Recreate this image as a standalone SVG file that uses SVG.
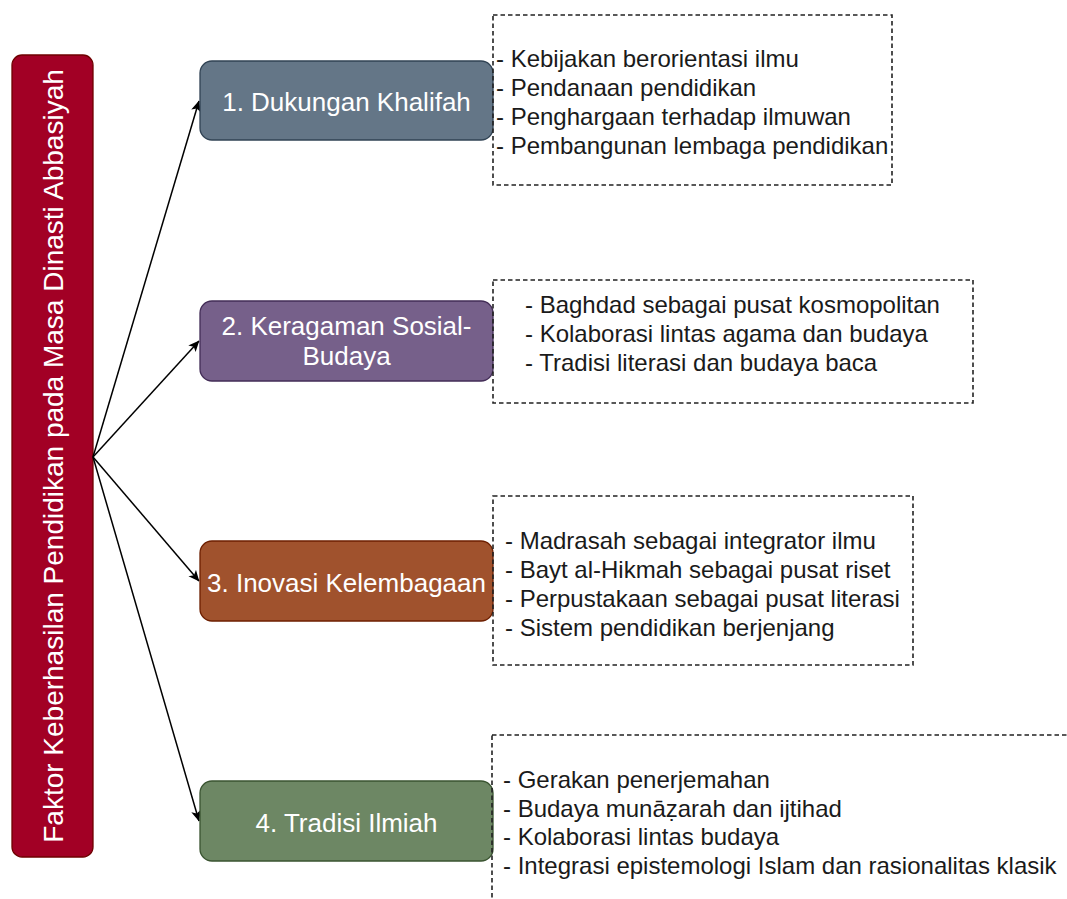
<svg xmlns="http://www.w3.org/2000/svg" width="1067" height="899" viewBox="0 0 1067 899">
  <style>
    .node-text { font-family: "Liberation Sans", Arial, sans-serif; font-size: 26px; fill: #ffffff; text-anchor: middle; }
    .main-text { font-family: "Liberation Sans", Arial, sans-serif; font-size: 28px; fill: #ffffff; text-anchor: middle; }
    .list-text { font-family: "Liberation Sans", Arial, sans-serif; font-size: 24px; fill: #1a1a1a; }
    .dash { fill: none; stroke: #222222; stroke-width: 1.6; stroke-dasharray: 4.5 3; }
    .conn { fill: none; stroke: #000000; stroke-width: 1.5; marker-end: url(#arrow); }
  </style>
  <defs>
    <marker id="arrow" viewBox="0 0 10 10" refX="9.5" refY="5" markerWidth="11" markerHeight="11" markerUnits="userSpaceOnUse" orient="auto">
      <path d="M0,0.5 L10,5 L0,9.5 L2.5,5 Z" fill="#000000"/>
    </marker>
  </defs>
  <rect width="1067" height="899" fill="#ffffff"/>

  <g id="main">
    <rect x="12" y="55" width="81" height="802" rx="10" ry="10" fill="#a20025" stroke="#6f0000" stroke-width="1.3"/>
    <text class="main-text" transform="translate(63,456) rotate(-90)" x="0" y="0">Faktor Keberhasilan Pendidikan pada Masa Dinasti Abbasiyah</text>
  </g>

  <g id="connectors">
    <path class="conn" d="M93,457 L199,101"/>
    <path class="conn" d="M93,457 L199,341"/>
    <path class="conn" d="M93,457 L199,581"/>
    <path class="conn" d="M93,457 L199,821"/>
  </g>

  <g id="node1">
    <rect x="200" y="61" width="293" height="79" rx="12" ry="12" fill="#647687" stroke="#314354" stroke-width="1.3"/>
    <text class="node-text" x="346.5" y="111">1. Dukungan Khalifah</text>
  </g>
  <g id="node2">
    <rect x="200" y="301" width="293" height="80" rx="12" ry="12" fill="#76608a" stroke="#432d57" stroke-width="1.3"/>
    <text class="node-text" x="346.5" y="335">2. Keragaman Sosial-</text>
    <text class="node-text" x="346.5" y="365">Budaya</text>
  </g>
  <g id="node3">
    <rect x="200" y="541" width="293" height="80" rx="12" ry="12" fill="#a0522d" stroke="#6d1f00" stroke-width="1.3"/>
    <text class="node-text" x="346.5" y="592">3. Inovasi Kelembagaan</text>
  </g>
  <g id="node4">
    <rect x="200" y="781" width="293" height="80" rx="12" ry="12" fill="#6d8764" stroke="#3a5431" stroke-width="1.3"/>
    <text class="node-text" x="346.5" y="832">4. Tradisi Ilmiah</text>
  </g>

  <g id="list1">
    <rect class="dash" x="493" y="15" width="399" height="170"/>
    <text class="list-text" x="496" y="67">- Kebijakan berorientasi ilmu</text>
    <text class="list-text" x="496" y="96">- Pendanaan pendidikan</text>
    <text class="list-text" x="496" y="125">- Penghargaan terhadap ilmuwan</text>
    <text class="list-text" x="496" y="154">- Pembangunan lembaga pendidikan</text>
  </g>
  <g id="list2">
    <rect class="dash" x="493" y="280" width="480" height="123"/>
    <text class="list-text" x="525" y="313">- Baghdad sebagai pusat kosmopolitan</text>
    <text class="list-text" x="525" y="342">- Kolaborasi lintas agama dan budaya</text>
    <text class="list-text" x="525" y="371">- Tradisi literasi dan budaya baca</text>
  </g>
  <g id="list3">
    <rect class="dash" x="493" y="496" width="420" height="169"/>
    <text class="list-text" x="505" y="549">- Madrasah sebagai integrator ilmu</text>
    <text class="list-text" x="505" y="578">- Bayt al-Hikmah sebagai pusat riset</text>
    <text class="list-text" x="505" y="607">- Perpustakaan sebagai pusat literasi</text>
    <text class="list-text" x="505" y="636">- Sistem pendidikan berjenjang</text>
  </g>
  <g id="list4">
    <rect class="dash" x="492" y="735" width="700" height="300"/>
    <text class="list-text" x="503" y="788">- Gerakan penerjemahan</text>
    <text class="list-text" x="503" y="817">- Budaya munāẓarah dan ijtihad</text>
    <text class="list-text" x="503" y="845">- Kolaborasi lintas budaya</text>
    <text class="list-text" x="503" y="874">- Integrasi epistemologi Islam dan rasionalitas klasik</text>
  </g>
</svg>
